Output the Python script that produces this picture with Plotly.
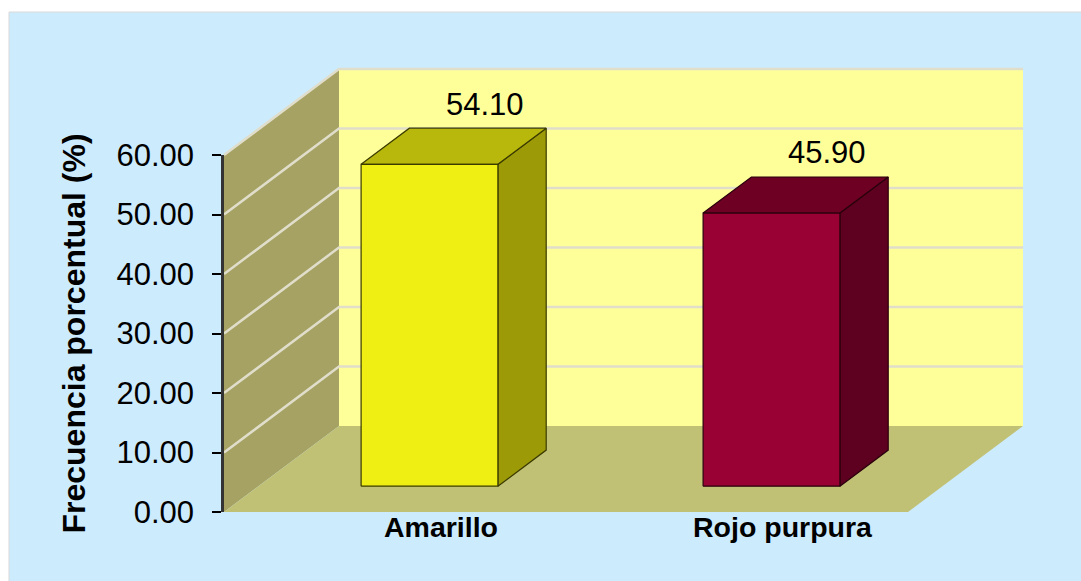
import plotly.graph_objects as go

# ---------------- data ----------------
categories = ["Amarillo", "Rojo purpura"]
values = [54.10, 45.90]
value_labels = ["54.10", "45.90"]
y_ticks = [0, 10, 20, 30, 40, 50, 60]
y_tick_labels = ["0.00", "10.00", "20.00", "30.00", "40.00", "50.00", "60.00"]
y_title = "Frecuencia porcentual (%)"

# ---------------- styles ----------------
front_colors = ["#EFEF14", "#990033"]
top_colors = ["#B8B80C", "#6E0024"]
side_colors = ["#9C9A07", "#5E0020"]
edge_colors = ["#3A3A00", "#2A000C"]
BACK_WALL = "#FFFF99"
SIDE_WALL = "#A5A263"
FLOOR = "#C1C176"
GRID = "#E0DECB"
BG = "#CCEBFD"
FONT = "Liberation Sans, Arial, sans-serif"

# ---------------- geometry (pixel layout) ----------------
W, H = 1081, 581
AX_LEFT_PX, AX_RIGHT_PX = 224, 908
AX_TOP_PX, AX_BOT_PX = 155, 512
DEPTH_DX_PX, DEPTH_DY_PX = 115, 86
YMAX = y_ticks[-1]
n = len(categories)

ppu_y = (AX_BOT_PX - AX_TOP_PX) / YMAX
ppu_x = (AX_RIGHT_PX - AX_LEFT_PX) / n
xa, xb = -0.5, n - 0.5
x_range = [xa - AX_LEFT_PX / ppu_x, xa + (W - AX_LEFT_PX) / ppu_x]
y_range = [-(H - AX_BOT_PX) / ppu_y, AX_BOT_PX / ppu_y]
Dx = DEPTH_DX_PX / ppu_x
Dy = DEPTH_DY_PX / ppu_y

BAR_HALF = 0.2        # half width of bar (category units)
F0, F1 = 0.30, 0.72   # bar front/back depth fractions
LABEL_DEPTH = 0.78
CAT_DEPTH = 0.40

fig = go.Figure()


def poly(xs, ys, fill, line_color=None, width=0):
    fig.add_trace(go.Scatter(
        x=xs + [xs[0]], y=ys + [ys[0]], mode="lines", fill="toself",
        fillcolor=fill,
        line=dict(color=line_color or fill, width=width),
        hoverinfo="skip", showlegend=False))


# back wall
poly([xa + Dx, xb + Dx, xb + Dx, xa + Dx], [Dy, Dy, YMAX + Dy, YMAX + Dy], BACK_WALL)
# side wall
poly([xa, xa + Dx, xa + Dx, xa], [0, Dy, YMAX + Dy, YMAX], SIDE_WALL)
# floor
poly([xa, xb, xb + Dx, xa + Dx], [0, 0, Dy, Dy], FLOOR)

# gridlines
gx, gy = [], []
for t in y_ticks[1:]:
    gx += [xa, xa + Dx, xb + Dx, None]
    gy += [t, t + Dy, t + Dy, None]
fig.add_trace(go.Scatter(x=gx, y=gy, mode="lines",
                         line=dict(color=GRID, width=2.5),
                         hoverinfo="skip", showlegend=False))

# bars
for i, v in enumerate(values):
    fx = i + F0 * Dx
    bx = i + F1 * Dx
    fy = F0 * Dy
    by = F1 * Dy
    L, R = -BAR_HALF, BAR_HALF
    # side face
    poly([fx + R, bx + R, bx + R, fx + R], [fy, by, by + v, fy + v],
         side_colors[i], edge_colors[i], 1.2)
    # top face
    poly([fx + L, fx + R, bx + R, bx + L], [fy + v, fy + v, by + v, by + v],
         top_colors[i], edge_colors[i], 1.2)
    # front face
    poly([fx + L, fx + R, fx + R, fx + L], [fy, fy, fy + v, fy + v],
         front_colors[i], edge_colors[i], 1.2)

# value labels
for i, v in enumerate(values):
    fig.add_annotation(x=i + LABEL_DEPTH * Dx, y=v + Dy, text=value_labels[i],
                       showarrow=False, xanchor="center", yanchor="middle",
                       font=dict(family=FONT, size=31, color="black"))

# category labels
for i, c in enumerate(categories):
    fig.add_annotation(x=i + CAT_DEPTH * Dx, y=-2.6, text="<b>%s</b>" % c,
                       showarrow=False, xanchor="center", yanchor="middle",
                       font=dict(family=FONT, size=28.5, color="black"))

# dummy trace for tick axis
fig.add_trace(go.Scatter(x=[0], y=[0], xaxis="x2", yaxis="y2", mode="markers",
                         marker=dict(opacity=0), hoverinfo="skip", showlegend=False))

fig.update_layout(
    width=W, height=H,
    margin=dict(l=0, r=0, t=0, b=0, autoexpand=False),
    paper_bgcolor="white",
    plot_bgcolor="rgba(0,0,0,0)",
    hovermode=False,
    shapes=[dict(type="rect", xref="paper", yref="paper",
                 x0=9 / W, x1=1.01, y0=-0.01, y1=1 - 12 / H,
                 fillcolor=BG, line=dict(color="#D9D9D9", width=1), layer="below")],
    xaxis=dict(range=x_range, visible=False, domain=[0, 1], fixedrange=True),
    yaxis=dict(range=y_range, visible=False, domain=[0, 1], fixedrange=True),
    xaxis2=dict(domain=[AX_LEFT_PX / W, 1], anchor="y2", range=[0, 1],
                visible=False),
    yaxis2=dict(domain=[(H - AX_BOT_PX) / H, (H - AX_TOP_PX) / H], anchor="x2",
                range=[0, YMAX], automargin=False,
                tickvals=y_ticks, ticktext=y_tick_labels,
                ticks="outside", ticklen=9, tickwidth=2, tickcolor="black",
                showline=True, linecolor="#333333", linewidth=2.5,
                showgrid=False, zeroline=False,
                ticklabelstandoff=12,
                tickfont=dict(family=FONT, size=31, color="black"),
                title=dict(text="<b>%s</b>" % y_title, standoff=22,
                           font=dict(family=FONT, size=32, color="black"))),
)

fig.write_html("out.html")
